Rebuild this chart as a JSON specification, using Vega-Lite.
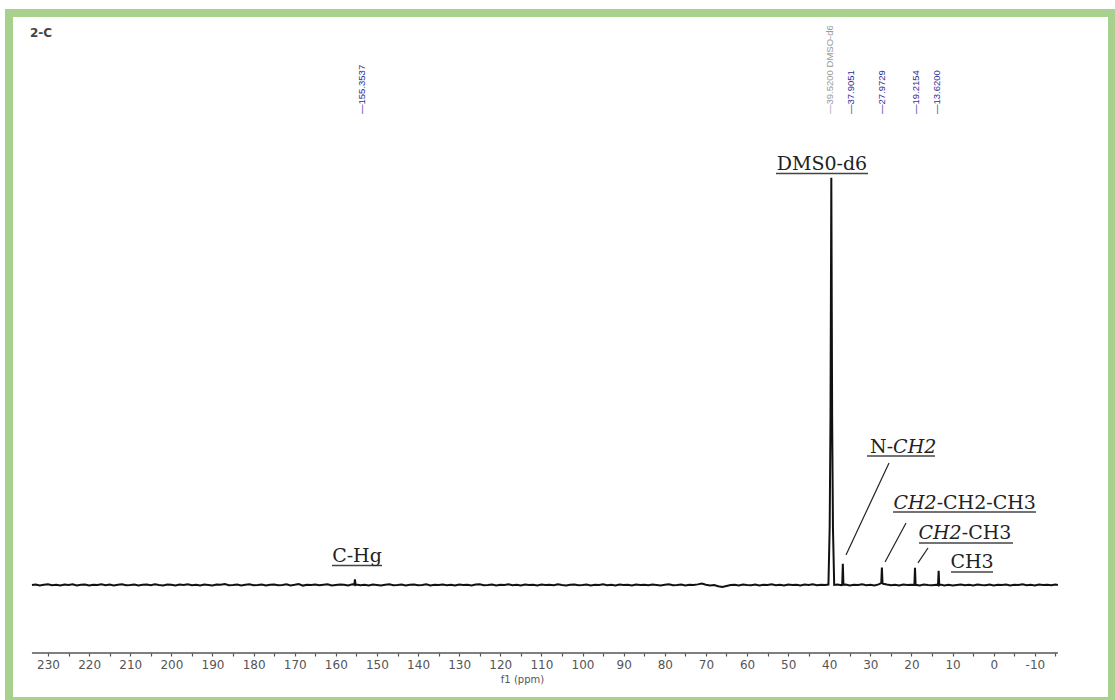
{
 "$schema": "https://vega.github.io/schema/vega-lite/v6.json",
 "width": 1103, "height": 688,
 "autosize": {"type": "none"},
 "padding": {"left": 9, "top": 13, "right": 3, "bottom": 0},
 "background": "white",
 "config": {"view": {"stroke": "#a9d18e", "strokeWidth": 8}, "axis": {"grid": false}},
 "datasets": {
  "spec": [
   {"x":233.9,"y":0.0},{"x":233,"y":0.1},{"x":232,"y":-0.1},{"x":231,"y":0.05},{"x":230,"y":0.15},{"x":229,"y":-0.05},{"x":228,"y":0.05},{"x":227,"y":-0.15},{"x":226,"y":0.1},{"x":225,"y":0.0},
   {"x":224,"y":0.15},{"x":223,"y":-0.1},{"x":222,"y":0.05},{"x":221,"y":0.1},{"x":220,"y":-0.15},{"x":219,"y":0.05},{"x":218,"y":0.0},{"x":217,"y":0.15},{"x":216,"y":-0.05},{"x":215,"y":0.1},
   {"x":214,"y":-0.1},{"x":213,"y":0.05},{"x":212,"y":0.15},{"x":211,"y":-0.05},{"x":210,"y":0.0},{"x":209,"y":0.1},{"x":208,"y":-0.15},{"x":207,"y":0.05},{"x":206,"y":0.1},{"x":205,"y":-0.05},
   {"x":204,"y":0.15},{"x":203,"y":0.0},{"x":202,"y":-0.1},{"x":201,"y":0.1},{"x":200,"y":0.05},{"x":199,"y":-0.15},{"x":198,"y":0.1},{"x":197,"y":0.0},{"x":196,"y":0.15},{"x":195,"y":-0.05},
   {"x":194,"y":0.05},{"x":193,"y":-0.1},{"x":192,"y":0.1},{"x":191,"y":0.0},{"x":190,"y":-0.15},{"x":189,"y":0.1},{"x":188,"y":0.05},{"x":187,"y":0.25},{"x":186,"y":-0.05},{"x":185,"y":0.0},
   {"x":184,"y":0.1},{"x":183,"y":-0.1},{"x":182,"y":0.05},{"x":181,"y":0.15},{"x":180,"y":-0.05},{"x":179,"y":0.0},{"x":178,"y":0.1},{"x":177,"y":-0.15},{"x":176,"y":0.05},{"x":175,"y":0.1},
   {"x":174,"y":-0.05},{"x":173,"y":0.0},{"x":172,"y":0.15},{"x":171,"y":-0.1},{"x":170,"y":0.05},{"x":169,"y":0.25},{"x":168,"y":-0.15},{"x":167,"y":0.05},{"x":166,"y":0.0},{"x":165,"y":0.1},
   {"x":164,"y":-0.05},{"x":163,"y":0.05},{"x":162,"y":0.15},{"x":161,"y":-0.1},{"x":160,"y":0.0},{"x":159,"y":0.1},{"x":158,"y":0.05},{"x":157,"y":-0.1},{"x":156,"y":0.15},
   {"x":155.5,"y":0.05},{"x":155.35,"y":1.4},{"x":155.2,"y":0.0},
   {"x":155,"y":0.1},{"x":154,"y":-0.05},{"x":153,"y":0.05},{"x":152,"y":-0.15},{"x":151,"y":0.1},{"x":150,"y":0.0},{"x":149,"y":-0.1},{"x":148,"y":0.05},{"x":147,"y":0.15},{"x":146,"y":-0.05},
   {"x":145,"y":0.0},{"x":144,"y":0.1},{"x":143,"y":-0.1},{"x":142,"y":0.05},{"x":141,"y":0.1},{"x":140,"y":-0.05},{"x":139,"y":0.0},{"x":138,"y":0.15},{"x":137,"y":-0.1},{"x":136,"y":0.05},
   {"x":135,"y":0.0},{"x":134,"y":0.1},{"x":133,"y":-0.05},{"x":132,"y":0.05},{"x":131,"y":-0.15},{"x":130,"y":0.1},{"x":129,"y":0.0},{"x":128,"y":0.05},{"x":127,"y":-0.1},{"x":126,"y":0.1},
   {"x":125,"y":0.15},{"x":124,"y":-0.05},{"x":123,"y":0.0},{"x":122,"y":0.1},{"x":121,"y":-0.1},{"x":120,"y":0.05},{"x":119,"y":0.0},{"x":118,"y":0.15},{"x":117,"y":-0.05},{"x":116,"y":0.05},
   {"x":115,"y":-0.1},{"x":114,"y":0.1},{"x":113,"y":0.0},{"x":112,"y":0.05},{"x":111,"y":-0.15},{"x":110,"y":0.1},{"x":109,"y":0.0},{"x":108,"y":0.05},{"x":107,"y":-0.05},{"x":106,"y":0.15},
   {"x":105,"y":0.0},{"x":104,"y":-0.1},{"x":103,"y":0.05},{"x":102,"y":0.1},{"x":101,"y":-0.05},{"x":100,"y":0.0},{"x":99,"y":0.1},{"x":98,"y":-0.1},{"x":97,"y":0.05},{"x":96,"y":0.0},
   {"x":95,"y":0.15},{"x":94,"y":-0.05},{"x":93,"y":0.05},{"x":92,"y":-0.1},{"x":91,"y":0.1},{"x":90,"y":0.0},{"x":89,"y":0.05},{"x":88,"y":-0.15},{"x":87,"y":0.1},{"x":86,"y":0.0},
   {"x":85,"y":0.05},{"x":84,"y":-0.05},{"x":83,"y":0.1},{"x":82,"y":0.0},{"x":81,"y":-0.1},{"x":80,"y":0.05},{"x":79,"y":0.15},{"x":78,"y":-0.05},{"x":77,"y":0.0},{"x":76,"y":0.1},
   {"x":75,"y":-0.1},{"x":74,"y":0.05},{"x":73,"y":0.0},{"x":72,"y":0.15},{"x":71,"y":0.35},{"x":70,"y":0.05},{"x":69,"y":-0.1},{"x":68,"y":0.0},{"x":67,"y":-0.3},{"x":66,"y":-0.5},
   {"x":65,"y":-0.25},{"x":64,"y":0.0},{"x":63,"y":0.05},{"x":62,"y":-0.1},{"x":61,"y":0.1},{"x":60,"y":0.0},{"x":59,"y":-0.05},{"x":58,"y":0.1},{"x":57,"y":-0.1},{"x":56,"y":0.05},
   {"x":55,"y":0.0},{"x":54,"y":0.15},{"x":53,"y":-0.05},{"x":52,"y":0.05},{"x":51,"y":-0.1},{"x":50,"y":0.1},{"x":49,"y":0.0},{"x":48,"y":0.05},{"x":47,"y":-0.15},{"x":46,"y":0.1},
   {"x":45,"y":0.0},{"x":44,"y":0.15},{"x":43,"y":-0.05},{"x":42,"y":0.05},{"x":41,"y":0.0},
   {"x":40.2,"y":0.1},{"x":39.9,"y":14},{"x":39.7,"y":41},{"x":39.5,"y":100},{"x":39.3,"y":41},{"x":39.1,"y":14},{"x":38.8,"y":0.0},
   {"x":38,"y":0.1},{"x":37,"y":-0.05},{"x":36.85,"y":0.0},{"x":36.7,"y":5.2},{"x":36.55,"y":0.05},{"x":36,"y":0.1},{"x":35,"y":-0.1},{"x":34,"y":0.05},{"x":33,"y":0.0},{"x":32,"y":0.15},
   {"x":31,"y":-0.05},{"x":30,"y":0.05},{"x":29,"y":-0.1},{"x":28,"y":0.15},
   {"x":27.5,"y":0.4},{"x":27.35,"y":0.5},{"x":27.2,"y":4.3},{"x":27.05,"y":0.5},{"x":26.9,"y":0.3},
   {"x":26,"y":0.1},{"x":25,"y":-0.05},{"x":24,"y":0.05},{"x":23,"y":-0.15},{"x":22,"y":0.1},{"x":21,"y":0.0},{"x":20,"y":0.05},
   {"x":19.3,"y":0.0},{"x":19.15,"y":4.2},{"x":19.0,"y":0.05},
   {"x":18,"y":-0.1},{"x":17,"y":0.1},{"x":16,"y":0.0},{"x":15,"y":-0.05},{"x":14,"y":0.05},
   {"x":13.55,"y":0.0},{"x":13.4,"y":3.5},{"x":13.25,"y":-0.05},
   {"x":13,"y":0.1},{"x":12,"y":-0.1},{"x":11,"y":0.05},{"x":10,"y":-0.15},{"x":9,"y":0.0},{"x":8,"y":0.1},{"x":7,"y":-0.05},{"x":6,"y":0.05},{"x":5,"y":-0.1},{"x":4,"y":0.1},
   {"x":3,"y":0.0},{"x":2,"y":-0.05},{"x":1,"y":0.1},{"x":0,"y":-0.1},{"x":-1,"y":0.05},{"x":-2,"y":0.0},{"x":-3,"y":0.1},{"x":-4,"y":-0.1},{"x":-5,"y":0.05},{"x":-6,"y":0.0},
   {"x":-7,"y":0.15},{"x":-8,"y":-0.05},{"x":-9,"y":0.05},{"x":-10,"y":-0.1},{"x":-11,"y":0.1},{"x":-12,"y":0.0},{"x":-13,"y":0.05},{"x":-14,"y":-0.05},{"x":-15,"y":0.1},{"x":-15.6,"y":0.0}
  ],
  "axisline": [{"x": 233.9, "x2": -15.6, "y": -16.7}],
  "annCenter": [
   {"x": 41.77, "y": 102.0, "t": "DMS0-d6"},
   {"x": 5.29, "y": 4.18, "t": "CH3"},
   {"x": 154.85, "y": 5.65, "t": "C-Hg"}
  ],
  "annNormRight": [{"x": 24.47, "y": 32.43, "t": "N-"}],
  "annItalLeft": [{"x": 24.47, "y": 32.43, "t": "CH2"}],
  "annItalRight": [
   {"x": 13.88, "y": 18.67, "t": "CH2"},
   {"x": 7.79, "y": 11.30, "t": "CH2"}
  ],
  "annNormLeft": [
   {"x": 13.88, "y": 18.67, "t": "-CH2-CH3"},
   {"x": 7.79, "y": 11.30, "t": "-CH3"}
  ],
  "underline": [
   {"x": 52.95, "x2": 30.58, "y": 101.1},
   {"x": 30.82, "x2": 14.29, "y": 31.7},
   {"x": 24.50, "x2": -10.28, "y": 17.94},
   {"x": 18.18, "x2": -4.68, "y": 10.32},
   {"x": 10.39, "x2": 0.18, "y": 3.19},
   {"x": 160.93, "x2": 148.77, "y": 4.79}
  ],
  "leader": [
   {"x": 25.47, "y": 29.98, "x2": 35.93, "y2": 7.37},
   {"x": 21.33, "y": 15.23, "x2": 26.43, "y2": 5.65},
   {"x": 15.99, "y": 9.09, "x2": 18.42, "y2": 5.41}
  ],
  "peaklabels": [
   {"x": 153.63, "y": 115.7, "t": "—155.3537"},
   {"x": 39.82, "y": 115.7, "t": "—39.5200 DMSO-d6"},
   {"x": 34.72, "y": 115.7, "t": "—37.9051"},
   {"x": 27.10, "y": 115.7, "t": "—27.9729"},
   {"x": 18.91, "y": 115.7, "t": "—19.2154"},
   {"x": 13.80, "y": 115.7, "t": "—13.6200"}
  ],
  "corner": [{"x": 234.37, "y": 134.6, "t": "2-C"}]
 },
 "encoding": {
  "x": {"field": "x", "type": "quantitative",
   "scale": {"domain": [239.48, -28.76], "nice": false, "zero": false},
   "axis": {"title": "f1 (ppm)",
    "values": [230,225,220,215,210,205,200,195,190,185,180,175,170,165,160,155,150,145,140,135,130,125,120,115,110,105,100,95,90,85,80,75,70,65,60,55,50,45,40,35,30,25,20,15,10,5,0,-5,-10,-15],
    "labelExpr": "datum.value % 10 === 0 ? '' + datum.value : ''",
    "domain": false, "offset": -48, "ticks": true, "tickSize": 3, "tickColor": "#555", "tickWidth": 1.2,
    "labelFont": "DejaVu Sans", "labelFontSize": 12, "labelColor": "#555", "labelPadding": 3,
    "labelAngle": 0, "labelOverlap": false, "labelFlush": false,
    "titleFont": "DejaVu Sans", "titleFontSize": 10, "titleFontWeight": "normal", "titleColor": "#555",
    "titleX": 513, "titleY": 26, "titleBaseline": "middle", "titleAlign": "center"}},
  "y": {"field": "y", "type": "quantitative",
   "scale": {"domain": [-28.5, 140.5], "nice": false, "zero": false}, "axis": null}
 },
 "layer": [
  {"data": {"name": "axisline"}, "mark": {"type": "rule", "color": "#555", "strokeWidth": 1.5},
   "encoding": {"x2": {"field": "x2"}}},
  {"data": {"name": "spec"}, "mark": {"type": "line", "color": "#111", "strokeWidth": 2, "interpolate": "linear"},
   "encoding": {}},
  {"data": {"name": "underline"}, "mark": {"type": "rule", "color": "#444", "strokeWidth": 1.5},
   "encoding": {"x2": {"field": "x2"}}},
  {"data": {"name": "leader"}, "mark": {"type": "rule", "color": "#222", "strokeWidth": 1.2},
   "encoding": {"x2": {"field": "x2"}, "y2": {"field": "y2"}}},
  {"data": {"name": "annCenter"}, "mark": {"type": "text", "font": "DejaVu Serif", "fontSize": 19, "align": "center", "baseline": "alphabetic", "color": "#222"},
   "encoding": {"text": {"field": "t"}}},
  {"data": {"name": "annNormRight"}, "mark": {"type": "text", "font": "DejaVu Serif", "fontSize": 19, "align": "right", "baseline": "alphabetic", "color": "#222"},
   "encoding": {"text": {"field": "t"}}},
  {"data": {"name": "annNormLeft"}, "mark": {"type": "text", "font": "DejaVu Serif", "fontSize": 19, "align": "left", "baseline": "alphabetic", "color": "#222"},
   "encoding": {"text": {"field": "t"}}},
  {"data": {"name": "annItalLeft"}, "mark": {"type": "text", "font": "DejaVu Serif", "fontStyle": "italic", "fontSize": 19, "align": "left", "baseline": "alphabetic", "color": "#222"},
   "encoding": {"text": {"field": "t"}}},
  {"data": {"name": "annItalRight"}, "mark": {"type": "text", "font": "DejaVu Serif", "fontStyle": "italic", "fontSize": 19, "align": "right", "baseline": "alphabetic", "color": "#222"},
   "encoding": {"text": {"field": "t"}}},
  {"data": {"name": "peaklabels"}, "mark": {"type": "text", "font": "Liberation Sans", "fontSize": 9.5, "angle": 270, "align": "left", "baseline": "middle"},
   "encoding": {"text": {"field": "t"},
    "color": {"condition": {"test": "indexof(datum.t, 'DMSO') >= 0", "value": "#9a9a9a"}, "value": "#2e2e9a"}}},
  {"data": {"name": "corner"}, "mark": {"type": "text", "font": "DejaVu Sans", "fontSize": 12, "fontWeight": "bold", "align": "left", "baseline": "alphabetic", "color": "#444"},
   "encoding": {"text": {"field": "t"}}}
 ]
}
